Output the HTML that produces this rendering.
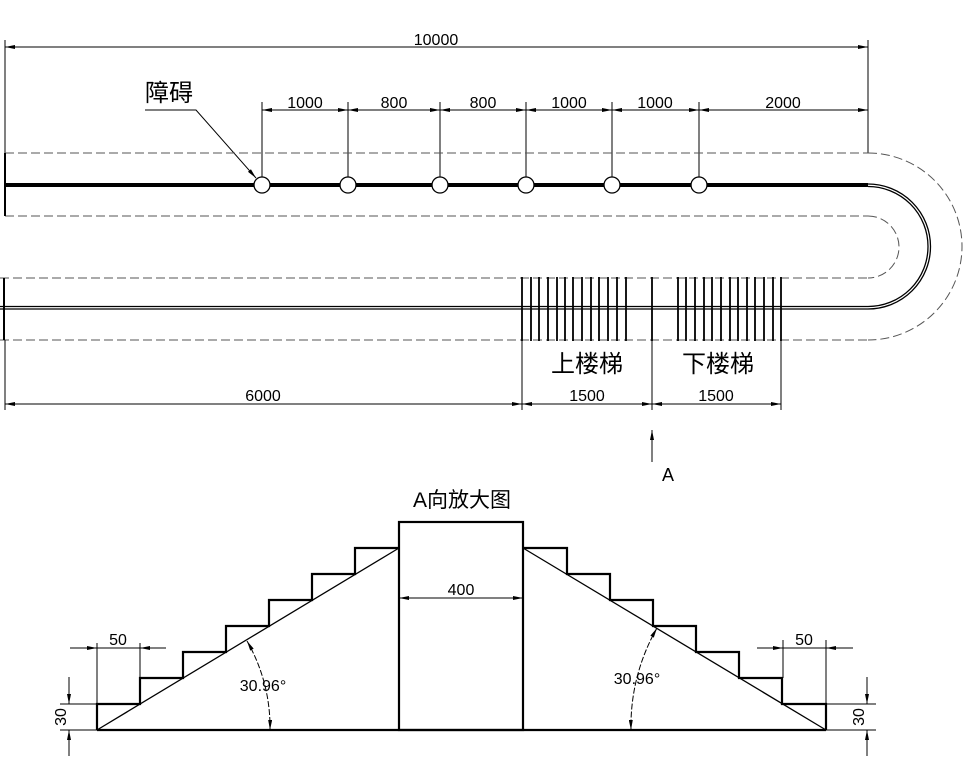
<!DOCTYPE html>
<html><head><meta charset="utf-8"><style>body{margin:0;background:#fff}svg{display:block}text{font-family:"Liberation Sans Narrow","Liberation Sans","Noto Sans CJK SC",sans-serif;fill:#000}</style></head><body>
<svg width="978" height="764" viewBox="0 0 978 764" xmlns="http://www.w3.org/2000/svg">
<defs><marker id="a" viewBox="0 0 10 4" refX="10" refY="2" markerWidth="10" markerHeight="4" orient="auto-start-reverse" markerUnits="userSpaceOnUse"><path d="M0,0L10,2L0,4z" fill="#000"/></marker></defs>
<g stroke="#000" fill="none" stroke-width="1">
<line x1="5" y1="40" x2="5" y2="216"/><line x1="868" y1="40" x2="868" y2="153"/>
<line x1="5" y1="47" x2="868" y2="47" marker-start="url(#a)" marker-end="url(#a)"/>
<g>
<line x1="262" y1="102" x2="262" y2="185"/><line x1="348" y1="102" x2="348" y2="185"/><line x1="440" y1="102" x2="440" y2="185"/><line x1="526" y1="102" x2="526" y2="185"/><line x1="612" y1="102" x2="612" y2="185"/><line x1="699" y1="102" x2="699" y2="185"/>
<line x1="262" y1="110" x2="348" y2="110" marker-start="url(#a)" marker-end="url(#a)"/>
<line x1="348" y1="110" x2="440" y2="110" marker-start="url(#a)" marker-end="url(#a)"/>
<line x1="440" y1="110" x2="526" y2="110" marker-start="url(#a)" marker-end="url(#a)"/>
<line x1="526" y1="110" x2="612" y2="110" marker-start="url(#a)" marker-end="url(#a)"/>
<line x1="612" y1="110" x2="699" y2="110" marker-start="url(#a)" marker-end="url(#a)"/>
<line x1="699" y1="110" x2="868" y2="110" marker-start="url(#a)" marker-end="url(#a)"/>
</g>
<polyline points="145,110 196,110 256,178" marker-end="url(#a)"/>
<g stroke="#555" stroke-dasharray="9,4">
<line x1="5" y1="153" x2="868" y2="153"/><line x1="5" y1="216" x2="868" y2="216"/>
<line x1="0" y1="278" x2="868" y2="278"/><line x1="0" y1="340" x2="868" y2="340"/>
<path d="M868,153 A94,93.5 0 0 1 868,340"/>
<path d="M868,216 A31,31 0 0 1 868,278"/>
</g>
<line x1="5" y1="185" x2="868" y2="185" stroke-width="4"/>
<path d="M868,184 A62.5,62.5 0 0 1 868,309" stroke-width="1.3"/>
<path d="M868,186.5 A60,60 0 0 1 868,306.5" stroke-width="1.3"/>
<line x1="0" y1="306.5" x2="868" y2="306.5" stroke-width="1.3"/>
<line x1="0" y1="309" x2="868" y2="309" stroke-width="1.3"/>
<line x1="4" y1="278" x2="4" y2="340" stroke-width="2"/>
<line x1="5" y1="153" x2="5" y2="216" stroke-width="2"/>
<g fill="#fff" stroke-width="1.3">
<circle cx="262" cy="185" r="8"/><circle cx="348" cy="185" r="8"/><circle cx="440" cy="185" r="8"/><circle cx="526" cy="185" r="8"/><circle cx="612" cy="185" r="8"/><circle cx="699" cy="185" r="8"/>
</g>
<g stroke-width="1.8">
<path d="M522,277V341M531,277V341M539,277V341M548,277V341M557,277V341M565,277V341M573,277V341M582,277V341M591,277V341M599,277V341M608,277V341M617,277V341M626,277V341M652,277V341M678,277V341M686,277V341M695,277V341M704,277V341M712,277V341M721,277V341M730,277V341M738,277V341M747,277V341M755,277V341M764,277V341M773,277V341M781,277V341"/>
</g>
<line x1="5" y1="340" x2="5" y2="410"/><line x1="522" y1="341" x2="522" y2="410"/><line x1="652" y1="341" x2="652" y2="410"/><line x1="781" y1="341" x2="781" y2="410"/>
<line x1="5" y1="404" x2="522" y2="404" marker-start="url(#a)" marker-end="url(#a)"/>
<line x1="522" y1="404" x2="652" y2="404" marker-start="url(#a)" marker-end="url(#a)"/>
<line x1="652" y1="404" x2="781" y2="404" marker-start="url(#a)" marker-end="url(#a)"/>
<line x1="652" y1="462" x2="652" y2="430" marker-end="url(#a)"/>
<g stroke-width="2.2">
<line x1="97" y1="730" x2="826" y2="730"/>
<rect x="399" y="522" width="124" height="208"/>
<polyline points="97,730 97,704 140,704 140,678 183,678 183,652 226,652 226,626 269,626 269,600 312,600 312,574 355,574 355,548 399,548"/>
<polyline points="826,730 826,704 782,704 782,678 739,678 739,652 696,652 696,626 653,626 653,600 610,600 610,574 567,574 567,548 523,548"/>
</g>
<line x1="97" y1="730" x2="399" y2="548" stroke-width="1.3"/>
<line x1="826" y1="730" x2="523" y2="548" stroke-width="1.3"/>
<line x1="399" y1="598" x2="523" y2="598" marker-start="url(#a)" marker-end="url(#a)"/>
<line x1="97" y1="643" x2="97" y2="704"/><line x1="140" y1="643" x2="140" y2="678"/>
<line x1="70" y1="648" x2="97" y2="648" marker-end="url(#a)"/><line x1="166" y1="648" x2="140" y2="648" marker-end="url(#a)"/><line x1="97" y1="648" x2="140" y2="648"/>
<line x1="783" y1="640" x2="783" y2="678"/><line x1="826" y1="640" x2="826" y2="704"/>
<line x1="757" y1="648" x2="783" y2="648" marker-end="url(#a)"/><line x1="853" y1="648" x2="826" y2="648" marker-end="url(#a)"/><line x1="783" y1="648" x2="826" y2="648"/>
<line x1="60" y1="704" x2="97" y2="704"/><line x1="60" y1="730" x2="97" y2="730"/>
<line x1="69" y1="677" x2="69" y2="704" marker-end="url(#a)"/><line x1="69" y1="756" x2="69" y2="730" marker-end="url(#a)"/>
<line x1="826" y1="704" x2="876" y2="704"/><line x1="826" y1="730" x2="876" y2="730"/>
<line x1="867" y1="677" x2="867" y2="704" marker-end="url(#a)"/><line x1="867" y1="756" x2="867" y2="730" marker-end="url(#a)"/>
<path d="M247,641 A173,173 0 0 1 270,730" stroke-dasharray="6,2" marker-start="url(#a)" marker-end="url(#a)"/>
<path d="M657,628 A197,197 0 0 0 631,730" stroke-dasharray="6,2" marker-start="url(#a)" marker-end="url(#a)"/>
</g>
<g font-size="16" text-anchor="middle">
<text x="436" y="45">10000</text>
<text x="305" y="108">1000</text><text x="394" y="108">800</text><text x="483" y="108">800</text><text x="569" y="108">1000</text><text x="655" y="108">1000</text><text x="783" y="108">2000</text>
<text x="263" y="401">6000</text><text x="587" y="401">1500</text><text x="716" y="401">1500</text>
<text x="461" y="595">400</text>
<text x="118" y="645">50</text><text x="804" y="645">50</text>
<text x="263" y="691">30.96°</text><text x="637" y="684">30.96°</text>
<text x="668" y="481" font-size="18">A</text>
<text transform="translate(66,717) rotate(-90)">30</text>
<text transform="translate(864,717) rotate(-90)">30</text>
</g>
<g font-size="24" text-anchor="middle">
<text x="169" y="101">障碍</text>
<text x="587" y="372">上楼梯</text>
<text x="718" y="372">下楼梯</text>
<text x="462" y="507" font-size="21">A向放大图</text>
</g>
</svg>
</body></html>
